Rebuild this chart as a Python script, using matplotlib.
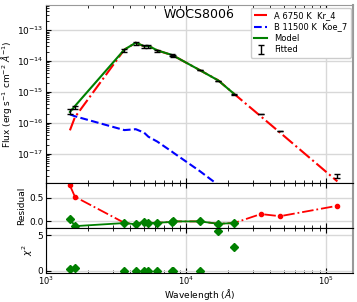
import matplotlib
matplotlib.use('Agg')
import matplotlib.pyplot as plt
from matplotlib.gridspec import GridSpec

# Longueurs d'onde des filtres (Angstrom)
wave = [1481, 1608, 3624, 4375, 5012, 5382, 6240, 7907, 8110,
        12530, 16950, 22000, 34200, 46900, 120500]
# Flux observés et erreurs
flux_obs = [2.4e-16, 3.2e-16, 2.26e-14, 3.7e-14, 3.0e-14, 3.0e-14, 2.15e-14,
            1.56e-14, 1.5e-14, 5.1e-15, 2.27e-15, 8.5e-16, 1.94e-16, 5.5e-17, 1.95e-18]
flux_err = [0.45e-16, 0.4e-16, 0.25e-14, 0.5e-14, 0.3e-14, 0.3e-14, 0.15e-14,
            0.1e-14, 0.1e-14, 0.1e-15, 0.05e-15, 0.2e-16, 0.04e-16, 0.1e-17, 0.25e-18]
# Composante A (toutes les longueurs d'onde)
flux_A = [5.8e-17, 1.54e-16, 2.33e-14, 3.9e-14, 3.0e-14, 3.1e-14, 2.2e-14,
          1.57e-14, 1.5e-14, 5.1e-15, 2.4e-15, 8.8e-16, 1.64e-16, 4.9e-17, 1.3e-18]
# Composante B (points ajustés seulement)
wave_fit = wave[:12]
flux_B = [1.9e-16, 1.65e-16, 5.9e-17, 6.3e-17, 4.9e-17, 3.6e-17, 2.5e-17,
          1.2e-17, 1.1e-17, 2.8e-18, 1.0e-18, 4.5e-19]
flux_model = [2.27e-16, 3.52e-16, 2.34e-14, 3.92e-14, 3.03e-14, 3.1e-14, 2.21e-14,
              1.58e-14, 1.5e-14, 5.1e-15, 2.38e-15, 8.8e-16]
# Résidus
res_A = [0.76, 0.52, -0.03, -0.06, -0.01, -0.03, -0.03, -0.01, 0.0,
         0.0, -0.05, -0.035, 0.155, 0.11, 0.33]
res_model = [0.055, -0.10, -0.035, -0.06, -0.01, -0.035, -0.03, -0.01, 0.0,
             0.0, -0.05, -0.035]
chi2 = [0.24, 0.46, 0.05, 0.05, 0.04, 0.05, 0.05, 0.04, 0.04, 0.05, 5.6, 3.3]

fig = plt.figure(figsize=(3.57, 3.02), dpi=100)
gs = GridSpec(3, 1, height_ratios=[178, 45, 45], hspace=0,
              left=0.129, right=0.989, top=0.983, bottom=0.096)
ax1 = fig.add_subplot(gs[0])
ax2 = fig.add_subplot(gs[1], sharex=ax1)
ax3 = fig.add_subplot(gs[2], sharex=ax1)

# Panneau principal
ax1.plot(wave, flux_A, color='red', ls='-.', lw=1.5, label='A 6750 K  Kr_4')
ax1.plot(wave_fit, flux_B, color='blue', ls='--', lw=1.5, label='B 11500 K  Koe_7')
ax1.plot(wave_fit, flux_model, color='green', lw=1.5, label='Model')
ax1.errorbar(wave, flux_obs, yerr=flux_err, fmt='none', ecolor='black',
             elinewidth=1, capsize=2, label='Fitted')
ax1.set_xscale('log')
ax1.set_yscale('log')
ax1.set_xlim(1000, 1.56e5)
ax1.set_ylim(1.15e-18, 6.4e-13)
ax1.set_ylabel(r'Flux (erg s$^{-1}$ cm$^{-2}$ $\AA^{-1}$)', fontsize=6.5, labelpad=2)
ax1.text(0.497, 0.95, 'WOCS8006', transform=ax1.transAxes, fontsize=9,
         ha='center', va='center')
ax1.legend(loc='upper right', fontsize=6, framealpha=1, borderaxespad=0.3,
           labelspacing=0.3, handlelength=1.6)

# Résidus
ax2.plot(wave, res_A, color='red', ls='-.', marker='o', ms=3, lw=1.3)
ax2.plot(wave_fit, res_model, color='green', marker='D', ms=4, lw=1.3)
ax2.set_ylim(-0.14, 0.81)
ax2.set_yticks([0.0, 0.5])
ax2.set_ylabel('Residual', fontsize=6.5, labelpad=2)

# Chi2
ax3.plot(wave_fit, chi2, color='green', marker='D', ms=4, ls='none')
ax3.set_ylim(-0.3, 6)
ax3.set_yticks([0, 5])
ax3.set_ylabel(r'$\chi^2$', fontsize=6.5, labelpad=2)
ax3.set_xlabel(r'Wavelength ($\AA$)', fontsize=6.5)
ax3.xaxis.set_label_coords(0.5, -0.30)

for ax in (ax1, ax2, ax3):
    ax.grid(True, which='major', color='#d8d8d8', lw=1)
    ax.set_axisbelow(True)
    ax.tick_params(which='both', direction='in', top=True, labelsize=6.5, pad=2)
    ax.tick_params(axis='x', labelsize=6, pad=1.5)
    ax.spines['right'].set_color('#999999')
    ax.spines['right'].set_linewidth(1.5)
ax1.spines['top'].set_color('#999999')
ax1.tick_params(axis='x', labelbottom=False)
ax2.tick_params(axis='x', labelbottom=False)

fig.savefig('out.png', dpi=100)
